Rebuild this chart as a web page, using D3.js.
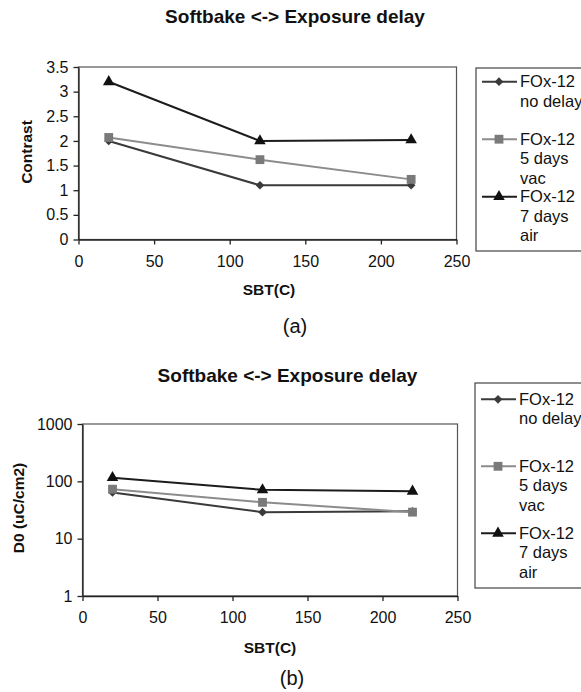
<!DOCTYPE html>
<html>
<head>
<meta charset="utf-8">
<script src="https://cdn.jsdelivr.net/npm/d3@7"></script>
<style>
  body { margin: 0; background: #fff; }
  svg text { font-family: "Liberation Sans", Arial, sans-serif; fill: #111; }
  .axis path, .axis line { stroke: #222; stroke-width: 1.3px; }
  .axis text { font-size: 16px; }
</style>
</head>
<body>
<div id="chart"></div>
<script>
// data
var sbt = [20, 120, 220];
var contrastNoDelay = [2.0, 1.1, 1.1];
var contrastVac = [2.07, 1.62, 1.22];
var contrastAir = [3.2, 2.0, 2.02];
var d0NoDelay = [64, 29, 30];
var d0Vac = [73, 43, 29];
var d0Air = [116, 71, 67];

var xTicks = [0, 50, 100, 150, 200, 250];
var contrastTicks = [0, 0.5, 1, 1.5, 2, 2.5, 3, 3.5];
var d0Ticks = [1, 10, 100, 1000];

var seriesNames = [["FOx-12", "no delay"], ["FOx-12", "5 days", "vac"], ["FOx-12", "7 days", "air"]];
var seriesLine = ["#3a3a3a", "#8c8c8c", "#1c1c1c"];
var seriesFill = ["#3a3a3a", "#7a7a7a", "#111"];
var seriesSymbol = [d3.symbolDiamond2, d3.symbolSquare, d3.symbolTriangle];
var symbolSize = [48, 78, 58];

var width = 581, height = 692;

var svg = d3.select("#chart").append("svg")
  .attr("width", width)
  .attr("height", height);

function drawChart(cfg) {
  var g = svg.append("g");

  var x = d3.scaleLinear().domain([0, 250]).range([cfg.left, cfg.right]);
  var y = cfg.log
    ? d3.scaleLog().domain([1, 1000]).range([cfg.bottom, cfg.top])
    : d3.scaleLinear().domain([0, 3.5]).range([cfg.bottom, cfg.top]);

  // plot frame
  g.append("rect")
    .attr("x", cfg.left)
    .attr("y", cfg.top)
    .attr("width", cfg.right - cfg.left)
    .attr("height", cfg.bottom - cfg.top)
    .attr("fill", "none")
    .attr("stroke", "#555")
    .attr("stroke-width", 1.2);

  g.append("g")
    .attr("class", "axis")
    .attr("transform", "translate(0," + cfg.bottom + ")")
    .call(d3.axisBottom(x).tickValues(xTicks).tickSizeInner(5).tickSizeOuter(0).tickPadding(11))
    .call(function(a) { a.selectAll("text").attr("fill", "#111"); });

  g.append("g")
    .attr("class", "axis")
    .attr("transform", "translate(" + cfg.left + ",0)")
    .call(d3.axisLeft(y).tickValues(cfg.yTicks).tickSizeInner(5).tickSizeOuter(0).tickPadding(5)
      .tickFormat(d3.format("")))
    .call(function(a) { a.selectAll("text").attr("fill", "#111"); });

  // titles
  g.append("text")
    .attr("x", cfg.titleX)
    .attr("y", cfg.titleY)
    .attr("text-anchor", "middle")
    .style("font-size", "19px")
    .style("font-weight", "bold")
    .text("Softbake <-> Exposure delay");

  g.append("text")
    .attr("x", cfg.xLabelX)
    .attr("y", cfg.xLabelY)
    .attr("text-anchor", "middle")
    .style("font-size", "15.5px")
    .style("font-weight", "bold")
    .text("SBT(C)");

  g.append("text")
    .attr("transform", "translate(" + cfg.yLabelX + "," + cfg.yLabelY + ") rotate(-90)")
    .attr("text-anchor", "middle")
    .attr("dy", "0.35em")
    .style("font-size", "15.5px")
    .style("font-weight", "bold")
    .text(cfg.yLabel);

  g.append("text")
    .attr("x", cfg.tagX)
    .attr("y", cfg.tagY)
    .attr("text-anchor", "middle")
    .style("font-size", "20px")
    .text(cfg.tag);

  // series
  var line = d3.line()
    .x(function(d) { return x(d[0]); })
    .y(function(d) { return y(d[1]); });

  cfg.series.forEach(function(vals, i) {
    var pts = sbt.map(function(s, j) { return [s, vals[j]]; });
    g.append("path")
      .datum(pts)
      .attr("d", line)
      .attr("fill", "none")
      .attr("stroke", seriesLine[i])
      .attr("stroke-width", 2);
    g.selectAll(null)
      .data(pts)
      .enter()
      .append("path")
      .attr("transform", function(d) { return "translate(" + x(d[0]) + "," + y(d[1]) + ")"; })
      .attr("d", d3.symbol().type(seriesSymbol[i]).size(symbolSize[i]))
      .attr("fill", seriesFill[i]);
  });

  // legend
  var lg = g.append("g");
  lg.append("rect")
    .attr("x", cfg.legX)
    .attr("y", cfg.legY)
    .attr("width", 120)
    .attr("height", cfg.legH)
    .attr("fill", "#fff")
    .attr("stroke", "#444")
    .attr("stroke-width", 1.2);

  seriesNames.forEach(function(lines, i) {
    var ly = cfg.legY + cfg.legFirst + i * cfg.legStep;
    lg.append("line")
      .attr("x1", cfg.legX + 6)
      .attr("x2", cfg.legX + 41)
      .attr("y1", ly)
      .attr("y2", ly)
      .attr("stroke", seriesLine[i])
      .attr("stroke-width", 2);
    lg.append("path")
      .attr("transform", "translate(" + (cfg.legX + 23) + "," + ly + ")")
      .attr("d", d3.symbol().type(seriesSymbol[i]).size(symbolSize[i]))
      .attr("fill", seriesFill[i]);
    lines.forEach(function(t, k) {
      lg.append("text")
        .attr("x", cfg.legX + 44)
        .attr("y", ly + 5.5 + k * 19.5)
        .style("font-size", "16.5px")
        .text(t);
    });
  });
}

drawChart({
  left: 78.5, right: 456.5, top: 67, bottom: 239.5,
  log: false, yTicks: contrastTicks, yLabel: "Contrast",
  series: [contrastNoDelay, contrastVac, contrastAir],
  titleX: 295, titleY: 22.5,
  xLabelX: 269, xLabelY: 295,
  yLabelX: 27, yLabelY: 152,
  tag: "(a)", tagX: 295, tagY: 333,
  legX: 476, legY: 68, legH: 183, legFirst: 13.7, legStep: 57.5
});

drawChart({
  left: 82.5, right: 457.5, top: 424, bottom: 596,
  log: true, yTicks: d0Ticks, yLabel: "D0 (uC/cm2)",
  series: [d0NoDelay, d0Vac, d0Air],
  titleX: 287.5, titleY: 381.5,
  xLabelX: 270, xLabelY: 653,
  yLabelX: 18.5, yLabelY: 508,
  tag: "(b)", tagX: 292, tagY: 685,
  legX: 475, legY: 383, legH: 205, legFirst: 16.3, legStep: 67
});
</script>
</body>
</html>
